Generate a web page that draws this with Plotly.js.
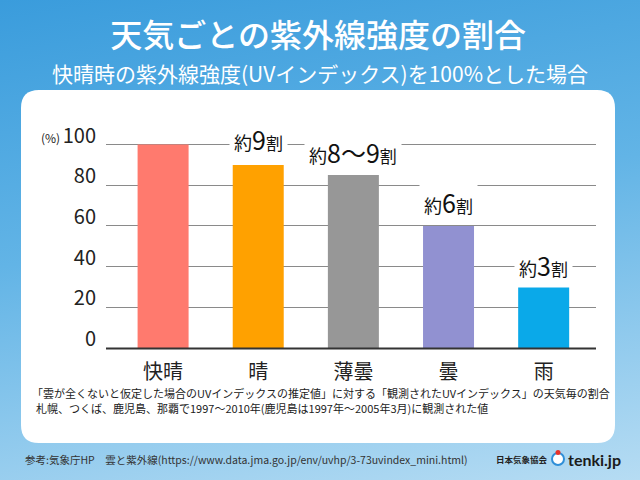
<!DOCTYPE html>
<html>
<head>
<meta charset="utf-8">
<script src="https://cdn.plot.ly/plotly-3.0.1.min.js"></script>
<style>
html,body{margin:0;padding:0;}
#chart{width:640px;height:480px;background:linear-gradient(170deg,#3a9cdc 0%,#62b4e6 45%,#b6dcf3 100%);}
</style>
</head>
<body>
<div id="chart"></div>
<script>
const categories = ['快晴', '晴', '薄曇', '曇', '雨'];
const values = [100, 90, 85, 60, 30];
const barColors = ['#ff7a6e', '#ffa100', '#979797', '#9191d1', '#0aa9e9'];
const yTicks = [0, 20, 40, 60, 80, 100];
const labelMain = ['約', '約', '約', '約'];
const labelNum = ['9', '8〜9', '6', '3'];
const labelIdx = [1, 2, 3, 4];
const labelY = [102.5, 96.2, 71.9, 41];

const JP = '"Noto Sans CJK JP", "Noto Sans", sans-serif';

// pixel helpers for paper coordinates (plot area: x 106..596, y 124..348)
const L = 106, W = 490, T = 124, H = 224;
const px = x => (x - L) / W;
const py = y => (T + H - y) / H;

function roundedRect(x0, y0, x1, y1, r) {
  const X0 = px(x0), X1 = px(x1), Y0 = py(y0), Y1 = py(y1);
  const rx = r / W, ry = r / H;
  return `M ${X0 + rx} ${Y0} L ${X1 - rx} ${Y0} Q ${X1} ${Y0} ${X1} ${Y0 - ry} ` +
         `L ${X1} ${Y1 + ry} Q ${X1} ${Y1} ${X1 - rx} ${Y1} ` +
         `L ${X0 + rx} ${Y1} Q ${X0} ${Y1} ${X0} ${Y1 + ry} ` +
         `L ${X0} ${Y0 - ry} Q ${X0} ${Y0} ${X0 + rx} ${Y0} Z`;
}

const trace = {
  type: 'bar',
  x: categories.map((c, i) => i),
  y: values,
  width: 0.536,
  marker: {color: barColors, line: {width: 0}},
  hoverinfo: 'skip'
};

const annotations = labelIdx.map((idx, k) => ({
  x: idx, y: labelY[k], xref: 'x', yref: 'y',
  text: `<span style="font-size:18px">${labelMain[k]}</span>${labelNum[k]}<span style="font-size:17px">割</span>`,
  showarrow: false, bgcolor: '#ffffff', borderpad: 4,
  font: {family: JP, size: 25, color: '#111'},
  xanchor: 'center', yanchor: 'middle'
}));

annotations.push(
  {xref: 'paper', yref: 'paper', x: px(320), y: py(73), text: '快晴時の紫外線強度(UVインデックス)を100%とした場合',
   showarrow: false, font: {family: JP, size: 21, color: '#ffffff'}, xanchor: 'center', yanchor: 'middle'},
  {xref: 'paper', yref: 'paper', x: px(62), y: py(137), text: '(%)',
   showarrow: false, font: {family: JP, size: 12, color: '#222'}, xanchor: 'right', yanchor: 'middle'},
  {xref: 'paper', yref: 'paper', x: px(30), y: py(393), text: '「雲が全くないと仮定した場合のUVインデックスの推定値」に対する「観測されたUVインデックス」の天気毎の割合',
   showarrow: false, font: {family: JP, size: 11, color: '#222'}, xanchor: 'left', yanchor: 'middle'},
  {xref: 'paper', yref: 'paper', x: px(34), y: py(408), text: '札幌、つくば、鹿児島、那覇で1997〜2010年(鹿児島は1997年〜2005年3月)に観測された値',
   showarrow: false, font: {family: JP, size: 11, color: '#222'}, xanchor: 'left', yanchor: 'middle'},
  {xref: 'paper', yref: 'paper', x: px(23), y: py(459), text: '参考:気象庁HP　雲と紫外線(https://www.data.jma.go.jp/env/uvhp/3-73uvindex_mini.html)',
   showarrow: false, font: {family: JP, size: 10.5, color: '#333'}, xanchor: 'left', yanchor: 'middle'},
  {xref: 'paper', yref: 'paper', x: px(550), y: py(459), text: '<b>日本気象協会</b>',
   showarrow: false, font: {family: JP, size: 8.5, color: '#222'}, xanchor: 'right', yanchor: 'middle'},
  {xref: 'paper', yref: 'paper', x: px(566), y: py(459), text: '<b>tenki.jp</b>',
   showarrow: false, font: {family: 'Lato, "Open Sans", sans-serif', size: 16, color: '#1b1b1b'}, xanchor: 'left', yanchor: 'middle'}
);

const shapes = [
  {type: 'path', xref: 'paper', yref: 'paper', layer: 'below', path: roundedRect(21, 90, 615, 443, 18),
   fillcolor: '#ffffff', line: {width: 0}},
  {type: 'line', xref: 'paper', yref: 'paper', layer: 'above', x0: 0, x1: 1, y0: py(348.5), y1: py(348.5),
   line: {color: '#333333', width: 2}},
  {type: 'circle', xref: 'paper', yref: 'paper', layer: 'above',
   x0: px(552), x1: px(564), y0: py(465), y1: py(453), fillcolor: '#ffffff', line: {color: '#2f8fd8', width: 2}},
  {type: 'circle', xref: 'paper', yref: 'paper', layer: 'above',
   x0: px(555.5), x1: px(560.5), y0: py(455), y1: py(450), fillcolor: '#e8332a', line: {width: 0}}
];

const layout = {
  width: 640, height: 480,
  margin: {l: L, r: 640 - L - W, t: T, b: 480 - T - H, pad: 0},
  paper_bgcolor: 'rgba(0,0,0,0)',
  plot_bgcolor: 'rgba(0,0,0,0)',
  showlegend: false,
  title: {text: '天気ごとの紫外線強度の割合', xref: 'container', yref: 'container', x: 0.497, y: 1 - 36 / 480,
          xanchor: 'center', yanchor: 'middle', font: {family: JP, size: 32, weight: 500, color: '#ffffff'}},
  xaxis: {
    range: [-0.6, 4.55], tickmode: 'array', tickvals: categories.map((c, i) => i), ticktext: categories,
    showgrid: false, zeroline: false, showline: false,
    ticks: '', ticklabelstandoff: 10,
    tickfont: {family: JP, size: 20, color: '#222'}, fixedrange: true
  },
  yaxis: {
    range: [0, 110.1], tickmode: 'array', tickvals: yTicks, ticktext: yTicks.map(String),
    showgrid: true, gridcolor: '#8a8a8a', gridwidth: 1,
    zeroline: false, showline: false, ticks: '', ticklabelstandoff: 9, ticklabelshift: -9,
    tickfont: {family: JP, size: 20, color: '#222'}, fixedrange: true
  },
  annotations: annotations,
  shapes: shapes
};

Plotly.newPlot('chart', [trace], layout, {displayModeBar: false, staticPlot: true});
</script>
</body>
</html>
